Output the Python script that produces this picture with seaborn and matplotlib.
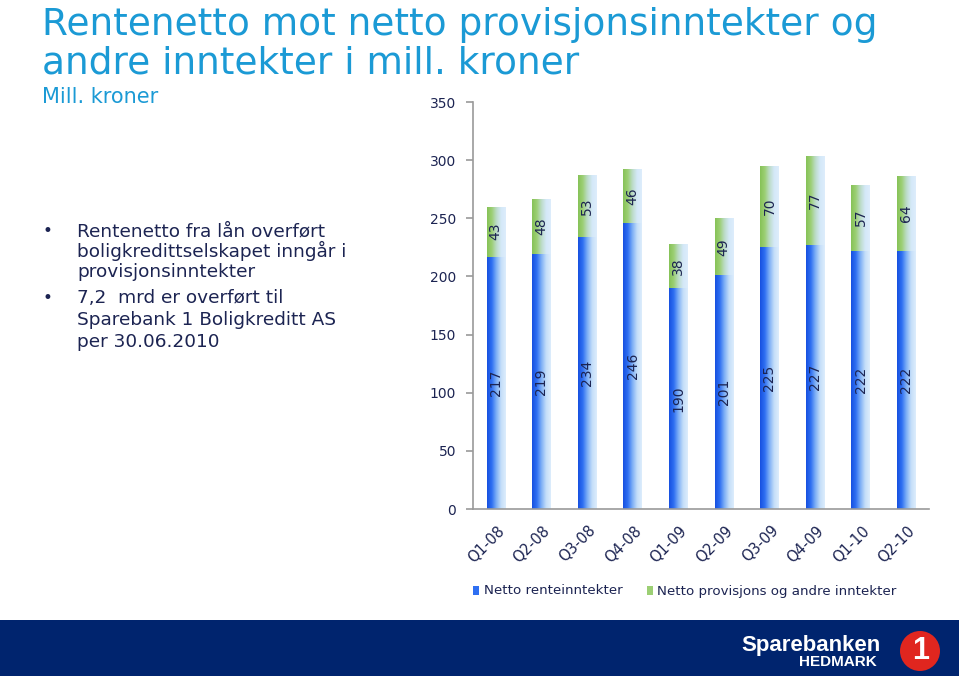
import numpy as np
import pandas as pd
import matplotlib
matplotlib.use("Agg")
import matplotlib.pyplot as plt
import matplotlib.transforms as mtrans
import seaborn as sns
from matplotlib.colors import LinearSegmentedColormap
from matplotlib.patches import Rectangle, Ellipse

# data
kvartal = ["Q1-08", "Q2-08", "Q3-08", "Q4-08", "Q1-09", "Q2-09", "Q3-09", "Q4-09", "Q1-10", "Q2-10"]
renteinntekter = [217, 219, 234, 246, 190, 201, 225, 227, 222, 222]
provisjoner = [43, 48, 53, 46, 38, 49, 70, 77, 57, 64]

df = pd.DataFrame({"kvartal": kvartal, "rente": renteinntekter, "prov": provisjoner})
df["total"] = df["rente"] + df["prov"]

navy = "#1c2452"
title_blue = "#1b9ad5"

sns.set_style("white")
plt.rcParams["font.family"] = ["DejaVu Sans"]

fig = plt.figure(figsize=(9.59, 6.76), dpi=100)
ax = fig.add_axes([0.4932, 0.247, 0.4755, 0.6021])

# stacked: totals first, then the bottom part on top of them
sns.barplot(data=df, x="kvartal", y="total", color="#8cc860", width=0.4, ax=ax)
sns.barplot(data=df, x="kvartal", y="rente", color="#2a66f0", width=0.4, ax=ax)

blue_cm = LinearSegmentedColormap.from_list("b", ["#1650e0", "#2f6ff2", "#7fb0f6", "#c4def9", "#ddedfc"])
green_cm = LinearSegmentedColormap.from_list("g", ["#86c257", "#9ccf74", "#bcdcc8", "#d4e8f8", "#ddedfc"])
grad = np.linspace(0, 1, 100).reshape(1, -1)

n = len(kvartal)
for i, p in enumerate(list(ax.patches)):
    cm = green_cm if i < n else blue_cm
    x0, y0 = p.get_x(), p.get_y()
    w, h = p.get_width(), p.get_height()
    im = ax.imshow(grad, cmap=cm, extent=(x0, x0 + w, y0, y0 + h), aspect="auto", zorder=p.get_zorder())
    im.set_clip_path(p)
    p.set_facecolor("none")
    p.set_edgecolor("none")

for i in range(n):
    ax.text(i, renteinntekter[i] / 2, str(renteinntekter[i]), rotation=90, ha="center", va="center",
            fontsize=10, color=navy, zorder=5)
    ax.text(i, renteinntekter[i] + provisjoner[i] / 2, str(provisjoner[i]), rotation=90, ha="center",
            va="center", fontsize=10, color=navy, zorder=5)

ax.set_xlim(-0.5, n - 0.5)
ax.set_ylim(0, 350)
ax.set_yticks(range(0, 351, 50))
ax.set_xlabel("")
ax.set_ylabel("")
for s in ["top", "right"]:
    ax.spines[s].set_visible(False)
for s in ["left", "bottom"]:
    ax.spines[s].set_color("#9a9a9a")
    ax.spines[s].set_linewidth(1.2)

ax.set_xticks(np.arange(n))
ax.set_xticklabels(kvartal, rotation=45, ha="right", va="top", rotation_mode="anchor",
                   fontsize=10.5, color=navy)
ax.set_xticks(np.arange(-0.5, n, 1), minor=True)
ax.tick_params(axis="x", which="major", length=0, pad=10)
ax.tick_params(axis="x", which="minor", length=5, width=1.2, color="#9a9a9a", direction="out")
ax.tick_params(axis="y", length=5, width=1.2, color="#9a9a9a", direction="out", labelsize=10,
               labelcolor=navy, pad=7, left=True)
off = mtrans.ScaledTranslation(1 / 100, 0, fig.dpi_scale_trans)
for lab in ax.get_xticklabels():
    lab.set_transform(lab.get_transform() + off)

# titles
fig.text(42 / 959, 1 - 35 / 676, "Rentenetto mot netto provisjonsinntekter og", fontsize=27,
         color=title_blue, va="baseline", ha="left")
fig.text(42 / 959, 1 - 74 / 676, "andre inntekter i mill. kroner", fontsize=27,
         color=title_blue, va="baseline", ha="left")
fig.text(42 / 959, 1 - 103 / 676, "Mill. kroner", fontsize=15, color=title_blue, va="baseline", ha="left")

# bullet text
lines = [(231, "Rentenetto fra lån overført", True),
         (251, "boligkredittselskapet inngår i", False),
         (272, "provisjonsinntekter", False),
         (298, "7,2  mrd er overført til", True),
         (320, "Sparebank 1 Boligkreditt AS", False),
         (342, "per 30.06.2010", False)]
for y, t, b in lines:
    if b:
        fig.text(47 / 959, 1 - y / 676, "•", fontsize=12, color=navy, va="center", ha="center")
    fig.text(77 / 959, 1 - y / 676, t, fontsize=13.3, color=navy, va="center", ha="left")

# legend
fig.patches.append(Rectangle((473 / 959, 1 - 595 / 676), 6 / 959, 9 / 676, transform=fig.transFigure,
                             facecolor="#2f6ff2", edgecolor="none"))
fig.text(484 / 959, 1 - 591 / 676, "Netto renteinntekter", fontsize=9.6, color=navy, va="center")
fig.patches.append(Rectangle((647 / 959, 1 - 595 / 676), 6 / 959, 9 / 676, transform=fig.transFigure,
                             facecolor="#9ccf74", edgecolor="none"))
fig.text(657 / 959, 1 - 591 / 676, "Netto provisjons og andre inntekter", fontsize=9.6, color=navy,
         va="center")

# bottom band and logo
fig.patches.append(Rectangle((0, 0), 1, 56 / 676, transform=fig.transFigure, facecolor="#00246e",
                             edgecolor="none", zorder=0))
fig.text(881 / 959, 1 - 645 / 676, "Sparebanken", fontsize=16, color="white", fontweight="bold",
         family="Liberation Sans", ha="right", va="center")
fig.text(877 / 959, 1 - 662 / 676, "HEDMARK", fontsize=11, color="white", fontweight="bold",
         family="Liberation Sans", ha="right", va="center")
fig.patches.append(Ellipse((920 / 959, 1 - 651 / 676), 40 / 959, 40 / 676, transform=fig.transFigure,
                           facecolor="#e0261f", edgecolor="none"))
fig.text(921 / 959, 1 - 651 / 676, "1", fontsize=22, color="white", fontweight="bold",
         family="Liberation Sans", ha="center", va="center")

fig.savefig("out.png", dpi=100)
